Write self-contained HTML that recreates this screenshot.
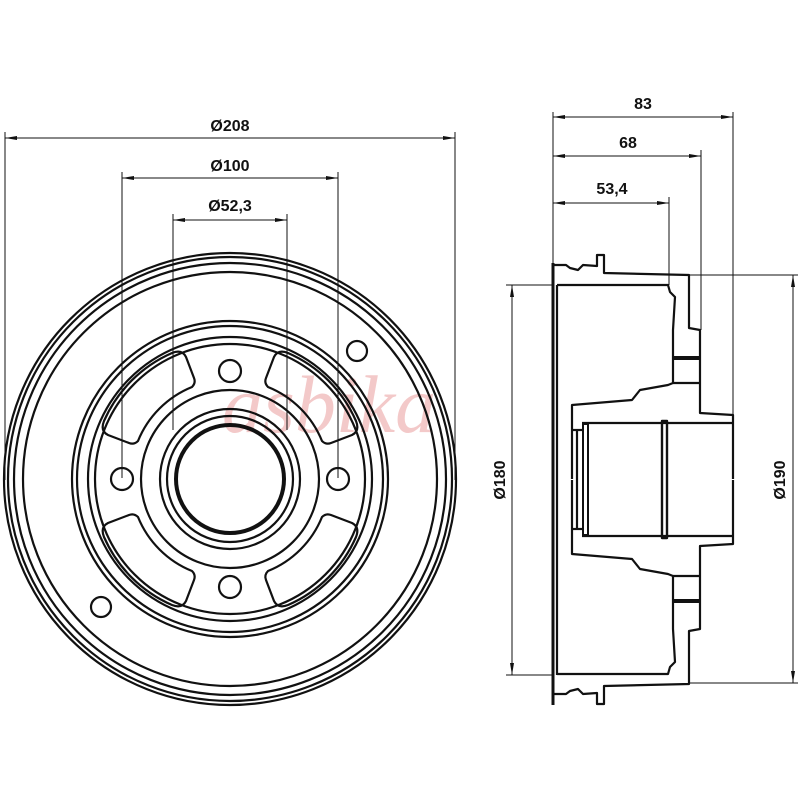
<!DOCTYPE html>
<html><head><meta charset="utf-8"><style>
html,body{margin:0;padding:0;background:#fff}
svg{display:block}
text{font-family:"Liberation Sans",sans-serif;font-weight:bold;fill:#111}
</style></head><body>
<svg width="800" height="800" viewBox="0 0 800 800" xmlns="http://www.w3.org/2000/svg">
<defs>
<marker id="a" viewBox="0 0 12 6" refX="12" refY="3" markerWidth="12" markerHeight="6" orient="auto-start-reverse" markerUnits="userSpaceOnUse"><path d="M0,1 L12,3 L0,5z" fill="#111"/></marker>
</defs>
<!-- watermark -->
<text x="222" y="432" font-size="82" font-family="Liberation Serif" font-style="italic" font-weight="normal" style="fill:#f0b8b8;font-family:'Liberation Serif',serif;font-weight:normal" opacity="0.75">asbika</text>

<g stroke="#111" fill="none">
<!-- front dims -->
<g stroke-width="1">
<line x1="5" y1="138" x2="455" y2="138" marker-start="url(#a)" marker-end="url(#a)"/>
<line x1="122" y1="178" x2="338" y2="178" marker-start="url(#a)" marker-end="url(#a)"/>
<line x1="173" y1="220" x2="287" y2="220" marker-start="url(#a)" marker-end="url(#a)"/>
<line x1="5" y1="132" x2="5" y2="480"/><line x1="455" y1="132" x2="455" y2="480"/>
<line x1="122" y1="172" x2="122" y2="478"/><line x1="338" y1="172" x2="338" y2="478"/>
<line x1="173" y1="214" x2="173" y2="430"/><line x1="287" y1="214" x2="287" y2="430"/>
</g>
<!-- front view -->
<g stroke-width="2.2">
<circle cx="230" cy="479" r="226"/>
<circle cx="230" cy="479" r="222"/>
<circle cx="230" cy="479" r="216"/>
<circle cx="230" cy="479" r="207"/>
<circle cx="230" cy="479" r="158"/>
<circle cx="230" cy="479" r="153"/>
<circle cx="230" cy="479" r="142"/>
<circle cx="230" cy="479" r="135"/>
<circle cx="230" cy="479" r="89"/>
<circle cx="230" cy="479" r="70"/>
<circle cx="230" cy="479" r="63"/>
<circle cx="230" cy="479" r="54" stroke-width="4"/>
<circle cx="122" cy="479" r="11"/><circle cx="338" cy="479" r="11"/>
<circle cx="230" cy="371" r="11"/><circle cx="230" cy="587" r="11"/>
<circle cx="357" cy="351" r="10"/><circle cx="101" cy="607" r="10"/>
<g transform="translate(230,479)" stroke-linejoin="round">
<path id="w" d="M92,38 Q96,34 101,36 L122,44 Q130,48 126,58 A132 132 0 0 1 58,126 Q48,130 44,122 L36,101 Q34,96 38,92 A98 98 0 0 0 92,38 Z"/>
<use href="#w" transform="rotate(90)"/>
<use href="#w" transform="rotate(180)"/>
<use href="#w" transform="rotate(270)"/>
</g>
</g>

<!-- side dims -->
<g stroke-width="1">
<line x1="553" y1="117" x2="733" y2="117" marker-start="url(#a)" marker-end="url(#a)"/>
<line x1="553" y1="156" x2="701" y2="156" marker-start="url(#a)" marker-end="url(#a)"/>
<line x1="553" y1="203" x2="669" y2="203" marker-start="url(#a)" marker-end="url(#a)"/>
<line x1="553" y1="112" x2="553" y2="263"/>
<line x1="733" y1="112" x2="733" y2="414"/>
<line x1="701" y1="150" x2="701" y2="330"/>
<line x1="669" y1="197" x2="669" y2="285"/>
<line x1="512" y1="285" x2="512" y2="675" marker-start="url(#a)" marker-end="url(#a)"/>
<line x1="506" y1="285" x2="553" y2="285"/><line x1="506" y1="675" x2="553" y2="675"/>
<line x1="793" y1="275" x2="793" y2="683" marker-start="url(#a)" marker-end="url(#a)"/>
<line x1="689" y1="275" x2="798" y2="275"/><line x1="689" y1="683" x2="798" y2="683"/>
</g>

<!-- side view -->
<g stroke-width="2.2" stroke-linejoin="round">
<line x1="553" y1="263" x2="553" y2="705" stroke-width="3"/>
<line x1="557" y1="285" x2="557" y2="675"/>
<g id="half">
<path d="M553,265 L566,265 L570,268 L578,270 L583,265 L597,266 L597,255 L604,255 L604,273 L689,275 L689,328 L700,330 L700,413 L733,415 L733,479"/>
<path d="M557,285 L668,285 L670,292 L675,297 L673,330 L673,383 L668,385 L640,390 L632,400 L572,405 L572,479"/>
<path d="M673,358 L700,358 M673,383 L700,383" />
<line x1="673" y1="358" x2="700" y2="358" stroke-width="4"/>
<path d="M582,423 L733,423"/>
</g>
<use href="#half" transform="matrix(1,0,0,-1,0,959)"/>
<line x1="577" y1="430" x2="577" y2="530"/>
<rect x="583" y="424" width="5" height="111" stroke-width="2"/>
<rect x="662" y="421" width="5" height="117" stroke-width="2.4"/>
<line x1="572" y1="430" x2="582" y2="430"/><line x1="572" y1="529" x2="582" y2="529"/>
</g>
</g>

<text x="230" y="131" font-size="16" text-anchor="middle">Ø208</text>
<text x="230" y="171" font-size="16" text-anchor="middle">Ø100</text>
<text x="230" y="211" font-size="16" text-anchor="middle">Ø52,3</text>
<text x="643" y="109" font-size="16" text-anchor="middle">83</text>
<text x="628" y="148" font-size="16" text-anchor="middle">68</text>
<text x="612" y="194" font-size="16" text-anchor="middle">53,4</text>
<text x="0" y="0" font-size="16" text-anchor="middle" transform="translate(505,480) rotate(-90)">Ø180</text>
<text x="0" y="0" font-size="16" text-anchor="middle" transform="translate(785,480) rotate(-90)">Ø190</text>
</svg>
</body></html>
